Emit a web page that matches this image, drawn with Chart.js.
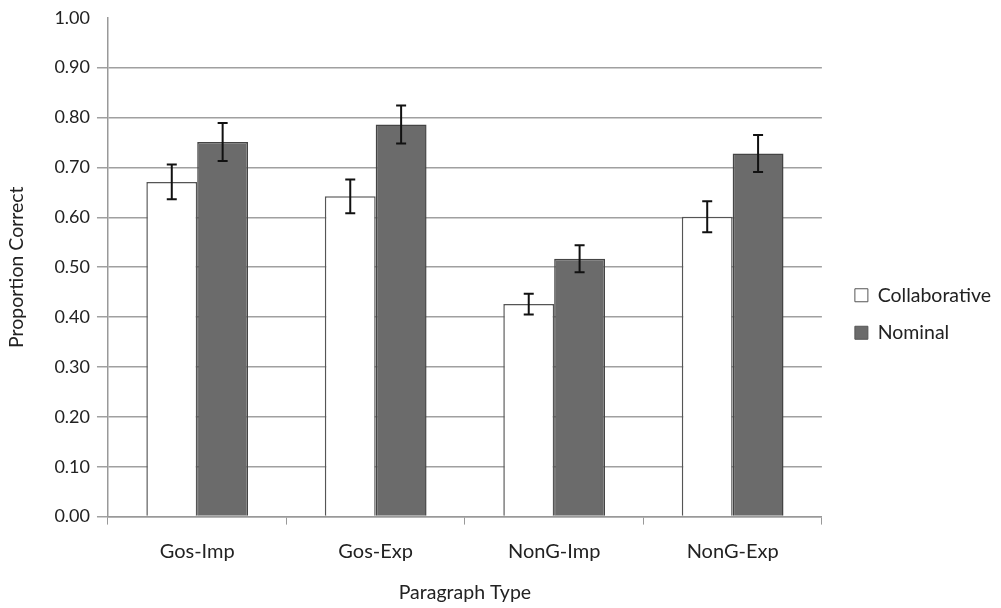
<!DOCTYPE html>
<html>
<head>
<meta charset="utf-8">
<script src="https://cdn.jsdelivr.net/npm/chart.js@4/dist/chart.umd.min.js"></script>
<style>
  html, body { margin: 0; padding: 0; background: #fff; }
  #wrap { width: 1001px; height: 608px; }
</style>
</head>
<body>
<div id="wrap"><canvas id="grafico"></canvas></div>
<script>
// datos
const categorias = ['Gos-Imp', 'Gos-Exp', 'NonG-Imp', 'NonG-Exp'];
const colaborativo = [0.671, 0.642, 0.426, 0.601];
const colaborativoErr = [0.035, 0.034, 0.021, 0.031];
const nominal = [0.751, 0.786, 0.517, 0.728];
const nominalErr = [0.038, 0.038, 0.027, 0.037];
const ticksY = [0, 0.1, 0.2, 0.3, 0.4, 0.5, 0.6, 0.7, 0.8, 0.9, 1.0];

const fuente = 'Lato, "DejaVu Sans", sans-serif';
const colorTexto = '#222';

// barras de error dibujadas con las escalas del grafico
const barrasError = {
    id: 'barrasError',
    afterDatasetsDraw(chart) {
        const ctx = chart.ctx;
        const y = chart.scales.y;
        ctx.save();
        ctx.strokeStyle = '#111';
        ctx.lineWidth = 2;
        chart.data.datasets.forEach((ds, i) => {
            const meta = chart.getDatasetMeta(i);
            meta.data.forEach((bar, j) => {
                const v = ds.data[j];
                const e = ds.errores[j];
                const yTop = y.getPixelForValue(v + e);
                const yBot = y.getPixelForValue(v - e);
                const x = bar.x;
                ctx.beginPath();
                ctx.moveTo(x, yTop); ctx.lineTo(x, yBot);
                ctx.moveTo(x - 5, yTop); ctx.lineTo(x + 5, yTop);
                ctx.moveTo(x - 5, yBot); ctx.lineTo(x + 5, yBot);
                ctx.stroke();
            });
        });
        ctx.restore();
    }
};

const ctx = document.getElementById('grafico').getContext('2d');
new Chart(ctx, {
    type: 'bar',
    data: {
        labels: categorias,
        datasets: [{
            label: 'Collaborative',
            data: colaborativo,
            errores: colaborativoErr,
            backgroundColor: '#ffffff',
            borderColor: '#555555',
            borderWidth: 1.5
        }, {
            label: 'Nominal',
            data: nominal,
            errores: nominalErr,
            backgroundColor: '#6b6b6b',
            borderColor: '#444444',
            borderWidth: 1.5
        }]
    },
    options: {
        responsive: true,
        maintainAspectRatio: false,
        animation: false,
        categoryPercentage: 0.57,
        barPercentage: 1,
        layout: { padding: { top: 8, right: 0, left: 0, bottom: 4 } },
        plugins: {
            tooltip: { enabled: false },
            legend: {
                position: 'right',
                title: {
                    display: true,
                    text: ' ',
                    font: { size: 10 },
                    padding: 2
                },
                labels: {
                    font: { family: fuente, size: 19.5 },
                    color: colorTexto,
                    boxWidth: 13,
                    boxHeight: 13,
                    padding: 18,
                    generateLabels(chart) {
                        return chart.data.datasets.map((ds, i) => ({
                            text: ds.label,
                            fillStyle: ds.backgroundColor,
                            strokeStyle: '#555',
                            lineWidth: 1,
                            fontColor: colorTexto,
                            datasetIndex: i
                        }));
                    }
                }
            }
        },
        scales: {
            x: {
                grid: {
                    display: true,
                    drawOnChartArea: false,
                    drawTicks: true,
                    tickLength: 8,
                    color: '#999'
                },
                border: { color: '#999', width: 1.5 },
                ticks: {
                    font: { family: fuente, size: 20 },
                    color: colorTexto,
                    padding: 15
                },
                title: {
                    display: true,
                    text: 'Paragraph Type',
                    font: { family: fuente, size: 19.5 },
                    color: colorTexto,
                    padding: { top: 2, bottom: 0 }
                }
            },
            y: {
                min: 0,
                max: 1,
                afterBuildTicks(axis) {
                    axis.ticks = ticksY.map(v => ({ value: v }));
                },
                grid: {
                    color: c => (c.tick && c.tick.value === 1 ? 'rgba(0,0,0,0)' : '#a0a0a0'),
                    lineWidth: 1.5,
                    tickLength: 11
                },
                border: { color: '#999', width: 1.5 },
                ticks: {
                    font: { family: fuente, size: 18 },
                    color: colorTexto,
                    padding: 7,
                    callback: v => v.toFixed(2)
                },
                title: {
                    display: true,
                    text: 'Proportion Correct',
                    font: { family: fuente, size: 19.5 },
                    color: colorTexto,
                    padding: { top: 5, bottom: 19 }
                }
            },
            // eje vacio: solo deja hueco entre el grafico y la leyenda
            hueco: {
                position: 'right',
                display: true,
                grid: { display: false },
                border: { display: false },
                ticks: { display: false },
                afterFit(axis) { axis.width = 15; }
            }
        }
    },
    plugins: [barrasError]
});
</script>
</body>
</html>
